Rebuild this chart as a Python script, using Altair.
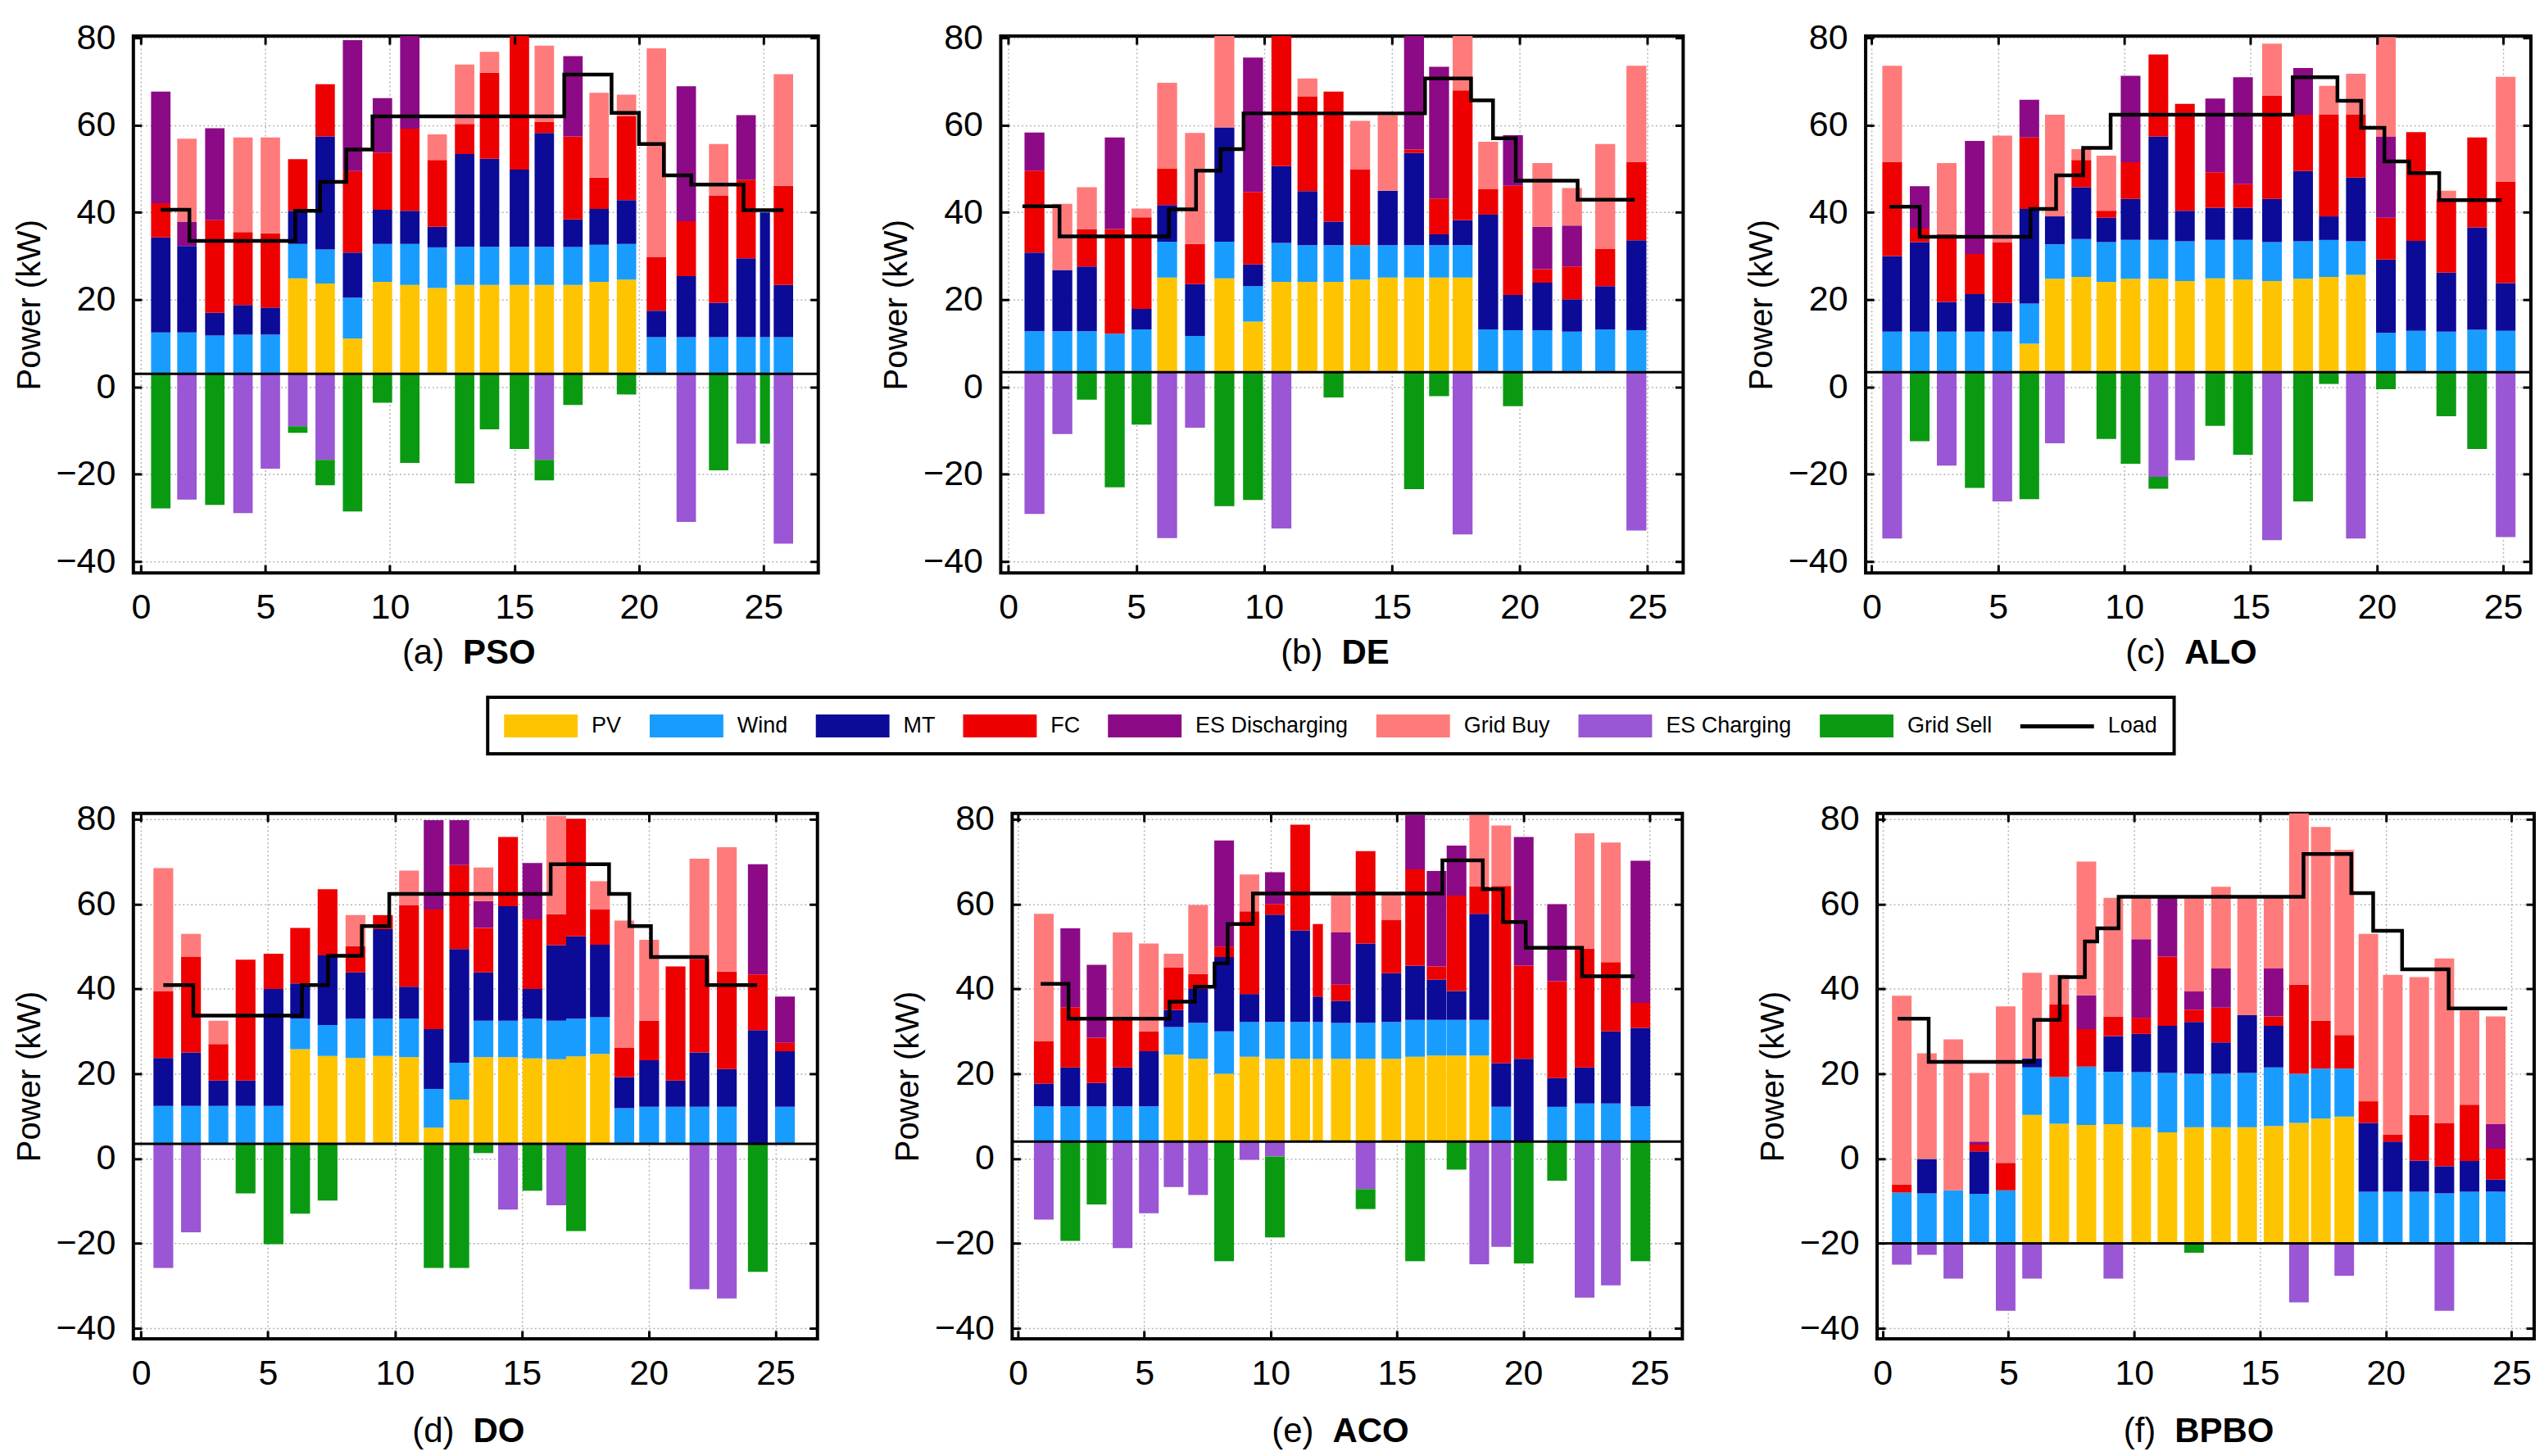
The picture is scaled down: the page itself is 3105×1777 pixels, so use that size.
import altair as alt
import pandas as pd

SERIES = ["PV", "Wind", "MT", "FC", "ES Discharging", "Grid Buy", "ES Charging", "Grid Sell"]
ITEMS = SERIES + ["Load"]
COLORS = ["#FFC400", "#189DFF", "#0B0B98", "#EE0000", "#8C0A86", "#FF7B7B", "#9A56D4", "#0A9A12", "#000000"]
BAR_SHAPE = "M-1,-0.93H5V0.93H-1Z"
LINE_SHAPE = "M-1,-0.17H5V0.17H-1Z"
SHAPES = [BAR_SHAPE] * 8 + [LINE_SHAPE]
Y_TICKS = [-40, -20, 0, 20, 40, 60, 80]
X_TICKS = [0, 5, 10, 15, 20, 25]

# ---------------- (a) PSO ----------------
pso_hour = [0.8, 1.85, 2.97, 4.1, 5.2, 6.3, 7.4, 8.5, 9.7, 10.8, 11.9, 13.0, 14.0, 15.2, 16.2, 17.35, 18.4, 19.5, 20.7, 21.9, 23.2, 24.3, 25.06, 25.8]
pso_pv = [0, 0, 0, 0, 0, 21.9, 20.7, 8.1, 21.1, 20.4, 19.7, 20.4, 20.4, 20.4, 20.4, 20.4, 21.1, 21.6, 0, 0, 0, 0, 0, 0]
pso_wind = [9.5, 9.5, 8.8, 9, 9, 7.9, 7.8, 9.4, 8.7, 9.4, 9.3, 8.7, 8.7, 8.7, 8.7, 8.7, 8.5, 8.2, 8.4, 8.4, 8.4, 8.4, 8.4, 8.4]
pso_mt = [21.8, 19.8, 5.2, 6.8, 6.2, 7.6, 25.9, 10.3, 7.8, 7.6, 4.7, 21.3, 20.2, 17.7, 26.1, 6.3, 8.2, 10, 6.1, 14, 7.9, 18.1, 28.6, 12]
pso_fc = [7.8, 0, 21.2, 16.7, 17, 11.8, 12, 18.7, 13.1, 18.8, 15.3, 6.9, 19.7, 31.2, 2.6, 19, 7.2, 19.2, 12.3, 12.6, 24.5, 18, 0, 22.7]
pso_esd = [25.6, 5.6, 21.1, 0, 0, 0, 0, 30, 12.5, 22.8, 0, 0, 0, 0, 0, 18.4, 0, 0, 0, 30.9, 0, 14.8, 0, 0]
pso_gb = [0, 19, 0, 21.7, 22, 0, 0, 0, 0, 0, 5.9, 13.6, 4.8, 2, 17.4, 0, 19.4, 5, 47.8, 0, 11.9, 0, 0, 25.6]
pso_esc = [0, -28.8, 0, -31.9, -21.7, -12, -19.7, 0, 0, 0, 0, 0, 0, 0, -19.7, 0, 0, 0, 0, -33.9, 0, -16, 0, -38.9]
pso_gs = [-30.8, 0, -30, 0, 0, -1.5, -5.8, -31.5, -6.6, -20.4, 0, -25.1, -12.7, -17.2, -4.7, -7.1, 0, -4.7, 0, 0, -22.1, 0, -16, 0]
pso_thin = [22]
pso_base = 3.0
pso_load_x = [0.8, 1.95, 6.2, 7.2, 8.25, 9.3, 17.0, 18.9, 20.0, 21.0, 22.1, 24.2, 25.8]
pso_load_v = [40.6, 33.5, 40.4, 47, 54.4, 62, 71.6, 62.8, 55.7, 48.5, 46.4, 40.5, 40.5]

# ---------------- (b) DE ----------------
de_hour = [1.02, 2.11, 3.07, 4.16, 5.21, 6.21, 7.3, 8.45, 9.57, 10.68, 11.7, 12.72, 13.76, 14.84, 15.87, 16.85, 17.77, 18.77, 19.74, 20.89, 22.05, 23.35, 24.57]
de_pv = [0, 0, 0, 0, 0, 21.7, 0, 21.5, 11.6, 20.7, 20.7, 20.7, 21.2, 21.7, 21.7, 21.7, 21.7, 0, 0, 0, 0, 0, 0]
de_wind = [9.4, 9.4, 9.4, 8.8, 9.8, 8.2, 8.3, 8.4, 8.1, 8.9, 8.4, 8.4, 7.9, 7.4, 7.4, 7.4, 7.4, 9.8, 9.6, 9.6, 9.3, 9.8, 9.6]
de_mt = [18, 14, 14.8, 0, 4.7, 8.4, 11.9, 26.2, 5, 17.6, 12.4, 5.4, 0, 12.5, 21.1, 2.5, 5.7, 26.3, 8.1, 10.9, 7.4, 9.9, 20.6]
de_fc = [18.8, 0, 8.6, 24, 21, 8.4, 9.2, 0, 16.6, 31.4, 21.7, 29.8, 17.3, 0, 0.8, 8.2, 29.8, 5.8, 25, 3.1, 7.5, 8.5, 18]
de_esd = [8.7, 0, 0, 21, 0, 0, 0, 0, 30.8, 0, 0, 0, 0, 0, 27.6, 30.2, 0, 0, 11.6, 9.7, 9.4, 0, 0]
de_gb = [0, 15.2, 9.6, 0, 2, 19.6, 25.4, 22.5, 0, 0, 4.1, 0, 11.2, 17.3, 0, 0, 14, 10.9, 0, 14.6, 8.6, 24.1, 22]
de_esc = [-32.5, -14.2, 0, 0, 0, -38, -12.7, 0, 0, -35.8, 0, 0, 0, 0, 0, 0, -37.2, 0, 0, 0, 0, 0, -36.3]
de_gs = [0, 0, -6.3, -26.4, -12, 0, 0, -30.7, -29.3, 0, 0, -5.8, 0, 0, -26.8, -5.5, 0, 0, -7.8, 0, 0, 0, 0]
de_thin = []
de_base = 3.4
de_load_x = [0.55, 2.0, 6.28, 7.34, 8.3, 9.2, 16.3, 18.1, 18.96, 19.85, 22.27, 24.5]
de_load_v = [41.4, 34.5, 40.7, 49.6, 54.5, 62.7, 70.7, 65.7, 57, 47.3, 42.9, 42.9]

# ---------------- (c) ALO ----------------
alo_hour = [0.81, 1.9, 2.97, 4.08, 5.17, 6.24, 7.25, 8.3, 9.29, 10.25, 11.35, 12.4, 13.6, 14.7, 15.85, 17.08, 18.1, 19.17, 20.36, 21.55, 22.75, 23.97, 25.1]
alo_pv = [0, 0, 0, 0, 0, 6.5, 21.4, 21.8, 20.7, 21.4, 21.4, 20.9, 21.5, 21.2, 20.9, 21.4, 21.8, 22.3, 0, 0, 0, 0, 0]
alo_wind = [9.3, 9.3, 9.3, 9.3, 9.3, 9.2, 7.9, 8.7, 9.1, 8.9, 8.9, 9.1, 8.8, 9.1, 8.9, 8.6, 8.5, 7.7, 9, 9.5, 9.3, 9.7, 9.5]
alo_mt = [17.3, 20.5, 6.8, 8.6, 6.6, 21.7, 6.4, 11.9, 5.6, 9.4, 23.7, 7, 7.4, 7.4, 9.9, 16.1, 5.4, 14.6, 16.8, 20.6, 13.5, 23.5, 10.9]
alo_fc = [21.5, 3.1, 15.6, 9.2, 13.9, 16.4, 0, 6.2, 1.6, 8.4, 18.8, 24.5, 8.1, 5.4, 23.7, 12.9, 23.3, 14.4, 9.6, 24.9, 16.9, 20.6, 23.2]
alo_esd = [0, 9.7, 0, 25.9, 0, 8.6, 0, 0, 0, 19.8, 0, 0, 16.9, 24.5, 0, 10.7, 0, 0, 18.6, 0, 0, 0, 0]
alo_gb = [22.1, 0, 16.2, 0, 24.4, 0, 23.3, 2.5, 12.6, 0, 0, 0, 0, 0, 11.9, 0, 6.6, 9.4, 22.8, 0, 1.9, 0, 24.1]
alo_esc = [-38.1, 0, -21.4, 0, -29.6, 0, -16.3, 0, 0, 0, -24, -20.2, 0, 0, -38.5, 0, 0, -38.1, 0, 0, 0, 0, -37.8]
alo_gs = [0, -15.8, 0, -26.5, 0, -29.1, 0, 0, -15.3, -21, -2.7, 0, -12.3, -18.9, 0, -29.6, -2.7, 0, -3.9, 0, -10.1, -17.6, 0]
alo_thin = []
alo_base = 3.4
alo_load_x = [0.7, 1.9, 6.29, 7.3, 8.37, 9.46, 16.67, 18.44, 19.38, 20.3, 21.28, 22.47, 24.94]
alo_load_v = [41.3, 34.4, 40.8, 48.5, 54.8, 62.4, 71, 65.6, 59.4, 51.7, 49, 42.8, 42.8]

# ---------------- (d) DO ----------------
do_hour = [0.88, 1.97, 3.05, 4.12, 5.22, 6.27, 7.35, 8.45, 9.53, 10.56, 11.53, 12.54, 13.49, 14.46, 15.42, 16.36, 17.14, 18.08, 19.04, 20.02, 21.06, 22.0, 23.08, 24.3, 25.37]
do_pv = [0, 0, 0, 0, 0, 22.3, 20.7, 20.2, 20.7, 20.4, 3.8, 10.4, 20.4, 20.4, 20.1, 19.9, 20.6, 21.2, 0, 0, 0, 0, 0, 0, 0]
do_wind = [8.9, 8.9, 8.9, 8.9, 8.9, 7.2, 7.3, 9.3, 8.8, 9.1, 9.1, 8.7, 8.6, 8.6, 9.4, 9.1, 8.9, 8.6, 8.4, 8.7, 8.7, 8.7, 8.7, 0, 8.7]
do_mt = [11.3, 12.6, 6, 6, 27.6, 8.3, 16.4, 10.9, 21.1, 7.5, 14.1, 26.8, 11.4, 27, 7, 17.8, 19.4, 17.1, 7.3, 11, 6.2, 12.8, 8.9, 26.8, 13.1]
do_fc = [15.8, 22.6, 8.6, 28.5, 8.3, 13.1, 15.6, 6.2, 3.3, 19.2, 28.2, 19.8, 10.5, 16.3, 16.4, 7.3, 27.7, 8.3, 7, 9.3, 26.9, 22.1, 23, 13.1, 2]
do_esd = [0, 0, 0, 0, 0, 0, 0, 0, 0, 0, 21.1, 10.6, 6.3, 0, 13.3, 0, 0, 0, 0, 0, 0, 0, 0, 26, 10.9]
do_gb = [29, 5.4, 5.5, 0, 0, 0, 0, 7.3, 0, 8.2, 0, 0, 7.9, 0, 0, 23.2, 0, 6.7, 29.9, 19.1, 0, 23.6, 29.3, 0, 0]
do_esc = [-29.3, -20.9, 0, 0, 0, 0, 0, 0, 0, 0, 0, 0, 0, -15.5, 0, -14.5, 0, 0, 0, 0, 0, -34.3, -36.5, 0, 0]
do_gs = [0, 0, 0, -11.7, -23.7, -16.5, -13.4, 0, 0, 0, -29.3, -29.3, -2.2, 0, -11.1, 0, -20.6, 0, 0, 0, 0, 0, 0, -30.2, 0]
do_thin = []
do_base = 3.5
do_load_x = [0.88, 2.06, 6.34, 7.37, 8.7, 9.78, 16.14, 18.44, 19.24, 20.09, 22.29, 24.27]
do_load_v = [40.9, 33.7, 40.9, 47.8, 54.8, 62.4, 69.4, 62.4, 54.8, 47.5, 40.9, 40.9]

# ---------------- (e) ACO ----------------
aco_hour = [1.02, 2.07, 3.11, 4.14, 5.18, 6.16, 7.13, 8.16, 9.16, 10.17, 11.17, 11.87, 12.78, 13.76, 14.78, 15.72, 16.57, 17.36, 18.26, 19.13, 20.02, 21.34, 22.43, 23.47, 24.64]
aco_pv = [0, 0, 0, 0, 0, 20.5, 19.5, 16, 20, 19.5, 19.5, 19.5, 19.5, 19.5, 19.5, 20, 20.3, 20.3, 20.3, 0, 0, 0, 0, 0, 0]
aco_wind = [8.3, 8.3, 8.3, 8.3, 8.3, 6.5, 8.5, 10, 8.2, 8.7, 8.7, 8.7, 8.5, 8.5, 8.7, 8.7, 8.4, 8.4, 8.4, 8.2, 0, 8.2, 9, 9, 8.3]
aco_mt = [5.4, 9.2, 5.5, 9.2, 13, 4, 8, 17.5, 6.6, 25.3, 21.6, 6, 5.2, 18.7, 11.5, 12.8, 9.5, 6.8, 25, 10.3, 19.5, 6.8, 8.5, 17, 18.5]
aco_fc = [10, 14.2, 10.7, 11.5, 4.7, 10, 3.5, 2.5, 19.5, 2.5, 24.9, 17.1, 3.8, 21.8, 12.5, 22.7, 3.1, 22.5, 6.5, 41.8, 22, 22.8, 28, 16.3, 5.9]
aco_esd = [0, 18.6, 17.2, 0, 0, 0, 0, 25, 0, 7.5, 0, 0, 12.3, 0, 0, 12.8, 22.5, 11.8, 0, 0, 30.3, 18.2, 0, 0, 33.5]
aco_gb = [30, 0, 0, 20.3, 20.7, 3.3, 16.3, 0, 8.7, 0, 0, 0, 9, 0, 6.3, 0, 0, 0, 16.8, 14.2, 0, 0, 27.2, 28.2, 0]
aco_esc = [-18.4, 0, 0, -25.1, -16.9, -10.7, -12.6, 0, -4.3, -3.5, 0, 0, 0, -11.2, 0, 0, 0, 0, -28.9, -24.8, 0, 0, -36.8, -33.9, 0]
aco_gs = [0, -23.4, -14.8, 0, 0, 0, 0, -28.2, 0, -19.1, 0, 0, 0, -4.7, 0, -28.2, 0, -6.6, 0, 0, -28.7, -9.2, 0, 0, -28.2]
aco_thin = [11]
aco_base = 4.0
aco_load_x = [0.9, 2.0, 6.0, 7.0, 7.78, 8.3, 9.3, 16.8, 18.4, 19.2, 20.1, 22.33, 24.4]
aco_load_v = [41.2, 33, 37, 40.5, 46, 55.3, 62.5, 70.3, 63.5, 55.8, 49.7, 43, 43]

# ---------------- (f) BPBO ----------------
bpbo_hour = [0.76, 1.76, 2.81, 3.84, 4.89, 5.94, 7.02, 8.1, 9.17, 10.28, 11.32, 12.38, 13.45, 14.49, 15.54, 16.55, 17.42, 18.35, 19.31, 20.28, 21.33, 22.33, 23.33, 24.37]
bpbo_pv = [0, 0, 0, 0, 0, 30.3, 28.2, 27.9, 28.1, 27.4, 26.2, 27.4, 27.4, 27.4, 27.7, 28.4, 29.4, 29.9, 0, 0, 0, 0, 0, 0]
bpbo_wind = [12, 11.8, 12.5, 11.7, 12.5, 11.2, 11, 13.8, 12.4, 13, 14, 12.6, 12.6, 12.8, 13.8, 11.6, 11.8, 11.3, 12.2, 12.2, 12.2, 11.8, 12.2, 12.2]
bpbo_mt = [0, 8.1, 0, 10, 0, 2.1, 0, 0, 8.4, 9, 11.1, 12.2, 7.4, 13.6, 9.8, 0, 0, 0, 16.2, 11.8, 7.3, 6.4, 7.2, 2.9]
bpbo_fc = [1.8, 0, 0, 1.6, 6.5, 0, 17.1, 8.8, 4.6, 3.8, 16.3, 2.9, 8.2, 0, 2.2, 21, 11.3, 7.9, 5.1, 1.6, 10.8, 10.2, 13.3, 7.2]
bpbo_esd = [0, 0, 0, 0.7, 0, 0, 0, 8, 0, 18.5, 14.1, 4.3, 9.2, 0, 11.3, 0, 0, 0, 0, 0, 0, 0, 0, 5.9]
bpbo_gb = [44.6, 24.9, 35.6, 16.2, 36.9, 20.2, 7, 31.5, 28, 10, 0, 22.1, 19.3, 27.9, 17.1, 41, 45.7, 43.7, 39.5, 37.7, 32.5, 38.8, 22.2, 25.3]
bpbo_esc = [-5, -2.7, -8.3, 0, -15.9, -8.3, 0, 0, -8.3, 0, 0, 0, 0, 0, 0, -13.9, 0, -7.6, 0, 0, 0, -15.9, 0, 0]
bpbo_gs = [0, 0, 0, 0, 0, 0, 0, 0, 0, 0, 0, -2.2, 0, 0, 0, 0, 0, 0, 0, 0, 0, 0, 0, 0]
bpbo_thin = []
bpbo_base = -20.0
bpbo_load_x = [0.6, 1.83, 6.02, 7.04, 8.04, 8.53, 9.38, 16.73, 18.63, 19.5, 20.65, 22.5, 24.83]
bpbo_load_v = [33, 22.8, 32.7, 42.8, 51.2, 54.3, 61.7, 71.8, 62.6, 53.7, 44.6, 35.4, 35.4]

PANELS = [
    dict(tag="(a)", name="PSO", hour=pso_hour, data=[pso_pv, pso_wind, pso_mt, pso_fc, pso_esd, pso_gb, pso_esc, pso_gs],
         thin=pso_thin, base=pso_base, lx=pso_load_x, lv=pso_load_v, xdom=[-0.3, 27.2], width=837),
    dict(tag="(b)", name="DE", hour=de_hour, data=[de_pv, de_wind, de_mt, de_fc, de_esd, de_gb, de_esc, de_gs],
         thin=de_thin, base=de_base, lx=de_load_x, lv=de_load_v, xdom=[-0.3, 26.4], width=834),
    dict(tag="(c)", name="ALO", hour=alo_hour, data=[alo_pv, alo_wind, alo_mt, alo_fc, alo_esd, alo_gb, alo_esc, alo_gs],
         thin=alo_thin, base=alo_base, lx=alo_load_x, lv=alo_load_v, xdom=[-0.24, 26.1], width=813),
    dict(tag="(d)", name="DO", hour=do_hour, data=[do_pv, do_wind, do_mt, do_fc, do_esd, do_gb, do_esc, do_gs],
         thin=do_thin, base=do_base, lx=do_load_x, lv=do_load_v, xdom=[-0.3, 26.65], width=836),
    dict(tag="(e)", name="ACO", hour=aco_hour, data=[aco_pv, aco_wind, aco_mt, aco_fc, aco_esd, aco_gb, aco_esc, aco_gs],
         thin=aco_thin, base=aco_base, lx=aco_load_x, lv=aco_load_v, xdom=[-0.23, 26.3], width=819),
    dict(tag="(f)", name="BPBO", hour=bpbo_hour, data=[bpbo_pv, bpbo_wind, bpbo_mt, bpbo_fc, bpbo_esd, bpbo_gb, bpbo_esc, bpbo_gs],
         thin=bpbo_thin, base=bpbo_base, lx=bpbo_load_x, lv=bpbo_load_v, xdom=[-0.22, 25.9], width=803),
]

ROWS = [
    dict(height=656, ydom=[-42.6, 80.4], label_pad=21, cap_y=110),
    dict(height=642, ydom=[-42.5, 81.35], label_pad=22, cap_y=126),
]

FONT = "Liberation Sans"
CAP_FS = 42
TAG_EM = {"(a)": 1.222, "(b)": 1.222, "(c)": 1.166, "(d)": 1.222, "(e)": 1.222, "(f)": 0.944}
NAME_EM = {"PSO": 2.111, "DE": 1.389, "ALO": 2.111, "DO": 1.5, "ACO": 2.222, "BPBO": 2.889}

LEGEND = alt.Legend(
    title=None, orient="none", legendX=433, legendY=808, direction="horizontal", columns=9,
    symbolSize=900, symbolStrokeWidth=0, symbolOpacity=1, labelOffset=77, columnPadding=34,
    padding=20, strokeColor="black", labelFontSize=27, labelFont=FONT, labelColor="black",
    labelLimit=600,
)

GRID = dict(grid=True, gridColor="#b4b4b4", gridDash=[2, 3], gridWidth=1.5)
TICKAX = dict(labels=False, domain=False, grid=False, ticks=True, tickSize=10, tickWidth=3,
              tickColor="black", offset=-10, zindex=1)


def build_panel(p, r):
    rows = []
    for i, h in enumerate(p["hour"]):
        for k in range(len(SERIES)):
            v = p["data"][k][i]
            if v != 0:
                rows.append({"hour": h, "series": SERIES[k], "kw": v, "order": k, "thin": i in p["thin"]})
    bars_df = pd.DataFrame(rows)
    load_df = pd.DataFrame({"hour": p["lx"], "kw": p["lv"], "series": "Load"})
    base_df = pd.DataFrame({"base": [p["base"]]})

    w, h = p["width"], r["height"]
    xs = alt.Scale(domain=p["xdom"], nice=False, zero=False)
    ys = alt.Scale(domain=r["ydom"], nice=False, zero=False)
    color = alt.Color("series:N", scale=alt.Scale(domain=ITEMS, range=COLORS), legend=LEGEND)

    total = (TAG_EM[p["tag"]] + NAME_EM[p["name"]]) * CAP_FS + 23
    left = w / 2 - 9 - total / 2
    tag_x = left + TAG_EM[p["tag"]] * CAP_FS / 2
    name_x = left + TAG_EM[p["tag"]] * CAP_FS + 23 + NAME_EM[p["name"]] * CAP_FS / 2

    main_x = alt.Axis(values=X_TICKS, orient="bottom", ticks=False, domain=False, labelFontSize=43,
                      labelPadding=r["label_pad"], labelColor="black", labelFont=FONT,
                      title=p["tag"], titleFontSize=CAP_FS, titleFontWeight="normal", titleFont=FONT,
                      titleColor="black", titleX=tag_x, titleY=r["cap_y"], titleBaseline="alphabetic",
                      titleAlign="center", **GRID)
    main_y = alt.Axis(values=Y_TICKS, orient="left", ticks=False, domain=False, labelFontSize=43,
                      labelPadding=22, labelColor="black", labelFont=FONT,
                      title="Power (kW)", titleFontSize=40, titleFontWeight="normal", titleFont=FONT,
                      titleColor="black", titlePadding=12, **GRID)
    in_bottom = alt.Axis(values=X_TICKS, orient="bottom", title=p["name"], titleFontSize=CAP_FS,
                         titleFontWeight="bold", titleFont=FONT, titleColor="black", titleX=name_x,
                         titleY=r["cap_y"] + 10, titleBaseline="alphabetic", titleAlign="center", **TICKAX)
    in_left = alt.Axis(values=Y_TICKS, orient="left", title=None, **TICKAX)
    in_top = alt.Axis(values=X_TICKS, orient="top", title=None, **TICKAX)
    in_right = alt.Axis(values=Y_TICKS, orient="right", title=None, **TICKAX)

    bars = alt.Chart(bars_df).transform_stack(
        stack="kw", groupby=["hour"], as_=["s0", "s1"], sort=[alt.SortField("order", "ascending")]
    ).transform_calculate(
        y0=f"datum.s0 + ({p['base']})",
        y1=f"datum.s1 + ({p['base']})",
        x0="datum.hour - (datum.thin ? 0.2 : 0.39)",
        x1="datum.hour + (datum.thin ? 0.2 : 0.39)",
    ).mark_rect(clip=True).encode(
        x=alt.X("x0:Q", scale=xs, axis=main_x),
        x2="x1:Q",
        y=alt.Y("y0:Q", scale=ys, axis=main_y),
        y2="y1:Q",
        color=color,
    )
    rule = alt.Chart(base_df).mark_rule(color="black", strokeWidth=3).encode(
        y=alt.Y("base:Q", scale=ys, axis=None)
    )
    line = alt.Chart(load_df).mark_line(interpolate="step-after", color="black", strokeWidth=4.5).encode(
        x=alt.X("hour:Q", scale=xs, axis=in_bottom),
        y=alt.Y("kw:Q", scale=ys, axis=in_left),
    )
    ghost = alt.Chart(load_df).transform_filter("false").mark_point(filled=True, opacity=1).encode(
        x=alt.X("hour:Q", scale=xs, axis=in_top),
        y=alt.Y("kw:Q", scale=ys, axis=in_right),
        color=color,
        shape=alt.Shape("series:N", scale=alt.Scale(domain=ITEMS, range=SHAPES), legend=LEGEND),
    )
    return alt.layer(bars, rule, line, ghost).resolve_axis(
        x="independent", y="independent"
    ).properties(width=w, height=h)


row1 = alt.hconcat(*[build_panel(p, ROWS[0]) for p in PANELS[:3]], spacing=70)
row2 = alt.hconcat(*[build_panel(p, ROWS[1]) for p in PANELS[3:]], spacing=85)

chart = alt.vconcat(row1, row2, spacing=157).resolve_scale(
    x="independent", y="independent", color="shared", shape="shared"
).properties(
    padding={"left": 6, "top": 14, "right": 0, "bottom": 0}
).configure(
    font=FONT, background="white"
).configure_view(
    stroke="black", strokeWidth=4
).configure_legend(
    strokeWidth=4
)

chart.save("out.html", embed_options={"renderer": "svg", "actions": False})
